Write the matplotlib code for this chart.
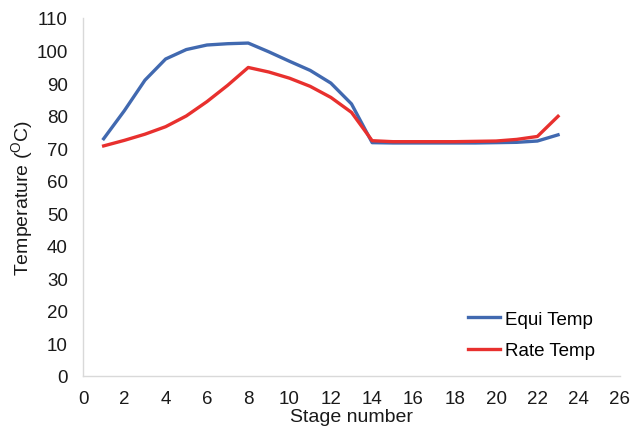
import matplotlib
matplotlib.use('Agg')
import matplotlib.pyplot as plt

plt.rcParams['font.family'] = ['Liberation Sans', 'DejaVu Sans']
plt.rcParams['mathtext.default'] = 'regular'

# stage-wise temperatures
stages = list(range(1, 24))
equi_temp = [72.9, 81.5, 90.9, 97.4, 100.3, 101.7, 102.1, 102.3, 99.6, 96.7, 93.9, 90.0,
             83.6, 71.7, 71.6, 71.6, 71.6, 71.6, 71.6, 71.7, 71.8, 72.2, 74.1]
rate_temp = [70.7, 72.4, 74.3, 76.6, 79.9, 84.3, 89.3, 94.8, 93.4, 91.5, 89.0, 85.6,
             81.0, 72.3, 72.0, 72.0, 72.0, 72.0, 72.1, 72.2, 72.7, 73.6, 79.8]

fig = plt.figure(figsize=(6.35, 4.27), dpi=100)
ax = fig.add_axes([83 / 635, 1 - 377 / 427, 537 / 635, 358 / 427])

ax.plot(stages, equi_temp, color='#4169b0', linewidth=2.4, label='Equi Temp')
ax.plot(stages, rate_temp, color='#e8302e', linewidth=2.4, label='Rate Temp')

ax.set_xlim(0, 26)
ax.set_ylim(0, 110)
ax.set_xticks(range(0, 27, 2))
ax.set_yticks(range(0, 111, 10))
ax.tick_params(length=0, labelsize=13.5, colors='#1a1a1a')
ax.tick_params(axis='y', pad=11)
ax.tick_params(axis='x', pad=10)

for side in ['top', 'right']:
    ax.spines[side].set_visible(False)
for side in ['left', 'bottom']:
    ax.spines[side].set_color('#d9d9d9')
    ax.spines[side].set_linewidth(1)

ax.set_xlabel('Stage number', fontsize=14, color='#1a1a1a', labelpad=0.5)
ax.set_ylabel('Temperature ($^{O}$C)', fontsize=14, color='#1a1a1a', labelpad=1)

ax.legend(loc='lower right', bbox_to_anchor=(0.985, 0.0), frameon=False, fontsize=13.5,
          handlelength=1.75, handletextpad=0.25, labelspacing=0.75)

plt.savefig('out.png', dpi=100)
